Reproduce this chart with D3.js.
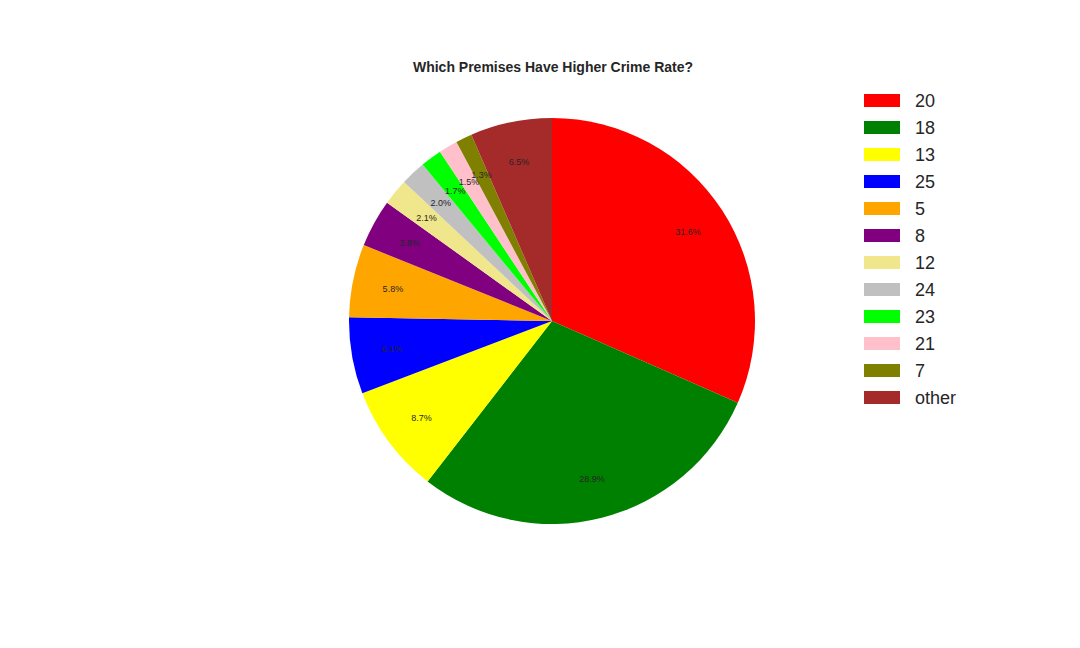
<!DOCTYPE html>
<html><head><meta charset="utf-8">
<script src="https://cdn.jsdelivr.net/npm/d3@7"></script>
<style>body{margin:0;background:#fff}</style>
</head><body><div id="vis"></div>
<script>
const labels = ['20','18','13','25','5','8','12','24','23','21','7','other'];
const values = [31.6, 28.9, 8.7, 6.1, 5.8, 3.8, 2.1, 2.0, 1.7, 1.5, 1.3, 6.5];
const colors = ['red','green','yellow','blue','orange','purple','khaki','silver','lime','pink','olive','brown'];

const width = 1080, height = 648;
const cx = 552, cy = 321, r = 203;

const svg = d3.select('#vis').append('svg')
    .attr('width', width).attr('height', height)
    .style('font-family', 'Arial, "Liberation Sans", sans-serif');

svg.append('text')
    .attr('x', 553).attr('y', 72)
    .attr('text-anchor', 'middle')
    .style('font-size', '14px').style('font-weight', 'bold').style('fill', '#262626')
    .text('Which Premises Have Higher Crime Rate?');

const pie = d3.pie().sort(null).value(d => d);
const arcs = pie(values);
const arc = d3.arc().innerRadius(0).outerRadius(r);
const labelArc = d3.arc().innerRadius(r * 0.8).outerRadius(r * 0.8);

const g = svg.append('g').attr('transform', `translate(${cx},${cy})`);
g.selectAll('path').data(arcs).enter().append('path')
    .attr('d', arc)
    .attr('fill', (d, i) => colors[i]);

g.selectAll('text').data(arcs).enter().append('text')
    .attr('transform', d => `translate(${labelArc.centroid(d)})`)
    .attr('text-anchor', 'middle')
    .attr('dy', '0.35em')
    .style('font-size', '9px').style('fill', '#262626')
    .text(d => d.data.toFixed(1) + '%');

const legend = svg.append('g');
labels.forEach((l, i) => {
  const y = 101 + i * 27;
  legend.append('rect').attr('x', 864).attr('y', y - 7).attr('width', 36).attr('height', 13)
      .attr('fill', colors[i]);
  legend.append('text').attr('x', 915).attr('y', y).attr('dy', '0.35em')
      .style('font-size', '18px').style('fill', '#262626').text(l);
});
</script>
</body></html>
